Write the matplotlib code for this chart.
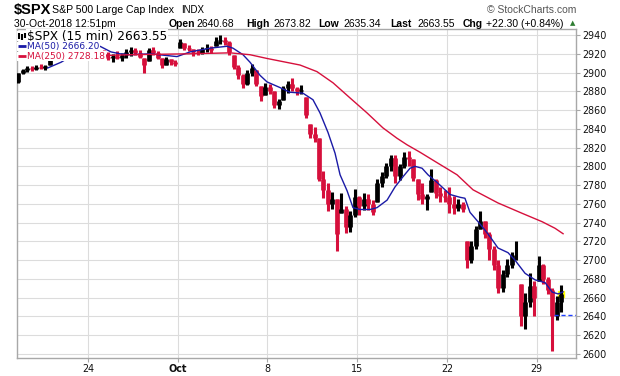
import matplotlib
matplotlib.use("Agg")
import matplotlib.pyplot as plt
import numpy as np

# sessions shown: Sep 18 .. Oct 30 2018, day 0 = Oct 1
day_index = list(range(-9, 22))
first_open = 2890

# 15-min bars condensed into four blocks per session
bar_high = [
    2900, 2904, 2907, 2907,  # Sep 18
    2908, 2909, 2908, 2915,  # Sep 19
    2925, 2930, 2933, 2934,  # Sep 20
    2940, 2939, 2935, 2933,  # Sep 21
    2924, 2920, 2922, 2924,  # Sep 24
    2922, 2920, 2923, 2921,  # Sep 25
    2925, 2927, 2926, 2924,  # Sep 26
    2916, 2926, 2927, 2923,  # Sep 27
    2916, 2917, 2914, 2913,  # Sep 28
    2936, 2932, 2929, 2925,  # Oct 1
    2925, 2927, 2930, 2928,  # Oct 2
    2938, 2940, 2938, 2934,  # Oct 3
    2919, 2908, 2898, 2903,  # Oct 4
    2909, 2903, 2886, 2889,  # Oct 5
    2888, 2880, 2872, 2886,  # Oct 8
    2891, 2894, 2885, 2887,  # Oct 9
    2874, 2845, 2842, 2830,  # Oct 10
    2795, 2782, 2773, 2765,  # Oct 11
    2772, 2758, 2752, 2776,  # Oct 12
    2768, 2772, 2770, 2764,  # Oct 15
    2786, 2794, 2804, 2812,  # Oct 16
    2812, 2803, 2815, 2816,  # Oct 17
    2808, 2786, 2782, 2770,  # Oct 18
    2797, 2786, 2778, 2775,  # Oct 19
    2778, 2768, 2765, 2762,  # Oct 22
    2720, 2720, 2736, 2752,  # Oct 23
    2742, 2730, 2715, 2700,  # Oct 24
    2690, 2701, 2709, 2720,  # Oct 25
    2675, 2665, 2686, 2678,  # Oct 26
    2704, 2696, 2682, 2670,  # Oct 29
    2662, 2674,              # Oct 30 (partial)
]
bar_low = [
    2889, 2898, 2901, 2902,
    2903, 2904, 2903, 2908,
    2914, 2920, 2926, 2928,
    2930, 2931, 2928, 2927,
    2914, 2913, 2915, 2914,
    2913, 2911, 2914, 2912,
    2915, 2918, 2919, 2915,
    2900, 2912, 2919, 2914,
    2905, 2908, 2908, 2907,
    2926, 2924, 2923, 2918,
    2919, 2920, 2922, 2921,
    2928, 2930, 2929, 2919,
    2904, 2893, 2884, 2887,
    2896, 2886, 2870, 2876,
    2877, 2862, 2861, 2871,
    2878, 2880, 2876, 2877,
    2852, 2830, 2826, 2784,
    2766, 2752, 2755, 2710,
    2750, 2729, 2730, 2746,
    2748, 2753, 2753, 2748,
    2762, 2778, 2788, 2795,
    2782, 2785, 2798, 2800,
    2784, 2764, 2760, 2754,
    2773, 2766, 2762, 2762,
    2750, 2749, 2752, 2751,
    2692, 2697, 2712, 2733,
    2724, 2700, 2690, 2665,
    2666, 2682, 2692, 2700,
    2630, 2627, 2650, 2640,
    2678, 2675, 2664, 2603,
    2636, 2645,
]
bar_close = [
    2899, 2903, 2905, 2904,
    2906, 2905, 2907, 2913,
    2922, 2928, 2931, 2931,
    2937, 2933, 2931, 2930,
    2916, 2918, 2920, 2917,
    2915, 2918, 2916, 2919,
    2922, 2924, 2921, 2917,
    2908, 2924, 2921, 2916,
    2908, 2914, 2911, 2909,
    2933, 2926, 2925, 2922,
    2921, 2925, 2926, 2924,
    2934, 2935, 2933, 2922,
    2906, 2897, 2888, 2900,
    2905, 2888, 2875, 2885,
    2880, 2865, 2870, 2884,
    2888, 2883, 2880, 2881,
    2855, 2835, 2830, 2786,
    2775, 2760, 2765, 2728,
    2755, 2735, 2748, 2767,
    2758, 2765, 2760, 2751,
    2782, 2790, 2800, 2809,
    2790, 2800, 2810, 2808,
    2788, 2770, 2765, 2768,
    2785, 2772, 2768, 2767,
    2760, 2756, 2760, 2755,
    2700, 2715, 2733, 2742,
    2728, 2712, 2695, 2670,
    2685, 2695, 2705, 2706,
    2640, 2655, 2672, 2660,
    2695, 2680, 2668, 2641,
    2655, 2663.55,
]
prev_close = 2641.25

# moving averages (time in sessions from Oct 1)
ma50_t = [-7.23, -6.5, -5.72, -5.0, -4.33, -3.72, -3.22, -2.66, -1.54, -0.04,
          0.69, 1.80, 2.75, 3.08, 3.64, 4.03, 4.59, 4.98, 5.70, 6.26, 6.98,
          7.54, 7.93, 8.38, 8.77, 9.05, 9.44, 9.77, 10.16, 10.72, 11.11, 11.67,
          12.11, 12.56, 12.95, 13.23, 13.62, 13.95, 14.45, 14.90, 15.18, 15.74,
          16.01, 16.29, 16.74, 17.13, 17.52, 17.85, 18.41, 18.80, 19.36, 19.92,
          20.48, 20.87, 21.20, 21.48]
ma50_v = [2905, 2911, 2920, 2926, 2928, 2922, 2920, 2919, 2920, 2917,
          2922, 2926, 2928, 2926, 2919, 2911, 2897, 2890, 2884, 2879, 2878,
          2871, 2857, 2836, 2814, 2791, 2774, 2756, 2754, 2754, 2756, 2764,
          2778, 2789, 2798, 2800, 2798, 2791, 2783, 2775, 2770, 2767,
          2766, 2751, 2741, 2732, 2722, 2713, 2708, 2700, 2686, 2679,
          2676, 2666, 2664, 2666.2]
ma250_t = [-4.33, -2.66, 0.69, 2.92, 4.03, 4.98, 6.82, 7.76, 8.66, 9.60, 10.55,
           11.44, 12.22, 12.78, 13.51, 14.45, 15.57, 16.46, 17.85, 19.19, 20.31,
           21.03, 21.48]
ma250_v = [2918, 2919, 2920, 2921, 2919, 2915, 2908, 2901, 2889, 2873, 2857,
           2841, 2830, 2823, 2815, 2804, 2791, 2775, 2761, 2750, 2741,
           2734, 2728.18]

tick_days = [-5, 0, 5, 10, 15, 20]
tick_labels = ["24", "Oct", "8", "15", "22", "29"]

RED = "#d6103c"
BLUE = "#1a1aa6"
W, H = 620, 376
AX_TOP, AX_BOT = 29.3, 358

fig = plt.figure(figsize=(W / 100, H / 100), dpi=100)
ax = fig.add_axes([16.5 / W, 1 - AX_BOT / H, (576 - 16.5) / W, (AX_BOT - AX_TOP) / H])

high = np.array(bar_high, float)
low = np.array(bar_low, float)
close = np.array(bar_close, float)
x = np.array([day_index[i // 4] + (i % 4 + 0.5) / 4 for i in range(len(close))])
opens = np.clip(np.r_[first_open, close[:-1]], low, high)
cols = np.where(close >= opens, "black", RED)

ax.vlines(x, low, high, colors=cols, lw=2.2, zorder=3)
ax.vlines(x, np.minimum(opens, close), np.maximum(opens, close), colors=cols,
          lw=3.4, zorder=3)

ax.plot(ma50_t, ma50_v, color=BLUE, lw=1.0, zorder=4)
ax.plot(ma250_t, ma250_v, color=RED, lw=1.0, zorder=4)

# previous close and last bar highlight
ax.hlines(prev_close, day_index[-1], 22.3, colors="#1f3fff", lw=1.0,
          linestyles=(0, (3, 2)), zorder=4)
ax.plot(x[-1], close[-1], "s", ms=5, mfc="#ffff00", mec="#ffff00", zorder=2)

ax.set_xlim(-8.985, 22.2)
ax.set_ylim(2595.7, 2946.1)
ax.set_xticks(tick_days)
ax.set_xticklabels(tick_labels)
ax.set_yticks(np.arange(2600, 2941, 20))
ax.yaxis.tick_right()
ax.grid(True, color="#dcdcdc", lw=0.8, zorder=0)
ax.set_axisbelow(True)
for s in ax.spines.values():
    s.set_color("#a8a8a8")
    s.set_linewidth(1.0)
ax.tick_params(axis="both", length=3, width=0.8, color="#a8a8a8",
               labelsize=6.9, pad=1.5, labelcolor="#111111")
for t in ax.get_xticklabels():
    if t.get_text() == "Oct":
        t.set_fontweight("bold")


def ay(py):
    return 1 - (py - AX_TOP) / (AX_BOT - AX_TOP)


def axx(px):
    return (px - 16.5) / (576 - 16.5)


# legend rows with white backing
box = dict(facecolor="white", edgecolor="none", pad=0.6)
ax.text(axx(27), ay(36), "$SPX (15 min) 2663.55", transform=ax.transAxes,
        fontsize=8.7, va="center", ha="left", bbox=box, zorder=6)
for py, label, color in [(46.3, "MA(50) 2666.20", BLUE), (56, "MA(250) 2728.18", RED)]:
    ax.text(axx(27), ay(py), label, transform=ax.transAxes, color=color,
            fontsize=6.5, va="center", ha="left", bbox=box, zorder=6)
    ax.fill_between([axx(16.5), axx(27)], ay(py - 4.5), ay(py + 4.5),
                    color="white", transform=ax.transAxes, zorder=6, lw=0)
    ax.plot([axx(18), axx(26)], [ay(py), ay(py)], color=color, lw=2.0,
            transform=ax.transAxes, zorder=7, solid_capstyle="butt")
ax.fill_between([axx(16.5), axx(27)], ay(31), ay(41),
                color="white", transform=ax.transAxes, zorder=6, lw=0)
for px, y0, y1 in [(19, 39, 33), (22, 40, 34), (25, 38, 33)]:
    ax.plot([axx(px), axx(px)], [ay(y0), ay(y1)], color="black", lw=1.5,
            transform=ax.transAxes, zorder=7, solid_capstyle="butt")


# header
def ftext(px, py, s, **kw):
    kw.setdefault("family", "Liberation Sans")
    fig.text(px / W, 1 - py / H, s, va="center", ha="left", **kw)


ftext(14, 10, "$SPX", fontsize=10.5, weight="bold")
ftext(52, 10, "S&P 500 Large Cap Index", fontsize=7.6)
ftext(181, 10, "INDX", fontsize=7)
ftext(487, 10, "© StockCharts.com", fontsize=7.5, color="#555555")
ftext(14, 24, "30-Oct-2018 12:51pm", fontsize=7.5)
for px, lab, val in [(169, "Open", "2640.68"), (246, "High", "2673.82"),
                     (318, "Low", "2635.34"), (390, "Last", "2663.55")]:
    ftext(px, 24, lab, fontsize=7.5, weight="bold")
    ftext(px + 27 if lab != "Low" else px + 25, 24, val, fontsize=7.5)
ftext(463, 24, "Chg", fontsize=7.5, weight="bold")
ftext(486, 24, "+22.30 (+0.84%)", fontsize=7.5)
ftext(570, 23.5, "▲", fontsize=5, color="#2e7d32", family="DejaVu Sans")

fig.savefig("out.png", dpi=100)
